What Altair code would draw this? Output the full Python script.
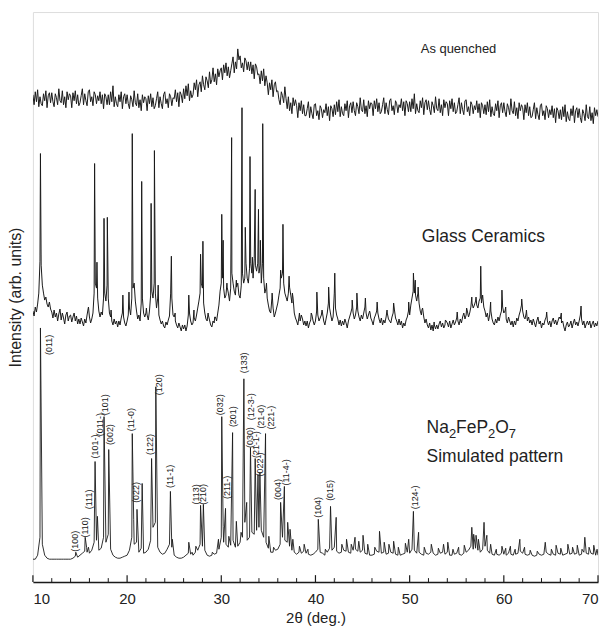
import altair as alt
import pandas as pd

# ---- x grids ----
GRID_FINE = [round(10 + 0.125 * i, 3) for i in range(481)]   # scanned traces
GRID_SIM = [round(10 + 0.25 * i, 2) for i in range(241)]     # simulated background

# ---- As quenched (intensity, arb. units), 0.125 deg steps, 8 per degree ----
AQ = [
    489, 479, 492, 482, 494, 477, 487, 480,  478, 490, 483, 493, 476, 488, 491, 481,
    491, 482, 477, 490, 486, 479, 495, 483,  481, 493, 479, 487, 476, 492, 484, 490,
    488, 476, 491, 483, 493, 480, 489, 478,  481, 488, 495, 479, 490, 483, 478, 492,
    494, 482, 487, 478, 492, 489, 480, 488,  483, 492, 480, 489, 475, 490, 487, 479,
    489, 479, 492, 482, 498, 477, 487, 480,  477, 489, 482, 492, 475, 487, 490, 480,
    489, 480, 475, 488, 484, 477, 493, 481,  478, 490, 476, 484, 473, 489, 481, 487,
    485, 473, 488, 480, 490, 477, 486, 475,  478, 485, 492, 476, 487, 480, 475, 489,
    492, 480, 485, 476, 490, 487, 478, 486,  485, 494, 482, 491, 477, 492, 489, 481,
    495, 485, 498, 488, 500, 483, 493, 486,  489, 501, 494, 504, 487, 499, 502, 492,
    508, 499, 494, 507, 503, 496, 512, 500,  504, 516, 502, 510, 499, 515, 507, 513,
    516, 504, 519, 511, 521, 508, 517, 506,  513, 520, 527, 511, 522, 515, 535, 524,
    528, 516, 521, 512, 526, 523, 514, 522,  513, 522, 510, 519, 505, 520, 517, 509,
    510, 500, 513, 503, 515, 498, 508, 501,  489, 501, 494, 504, 487, 499, 502, 492,
    493, 484, 479, 492, 488, 481, 497, 485,  475, 487, 473, 481, 470, 486, 478, 484,
    478, 466, 481, 473, 483, 470, 479, 468,  468, 475, 482, 466, 477, 470, 465, 479,
    480, 468, 473, 464, 478, 475, 466, 474,  471, 480, 468, 477, 463, 478, 475, 467,
    479, 469, 482, 472, 484, 467, 477, 470,  468, 480, 473, 483, 466, 478, 481, 471,
    482, 473, 468, 481, 477, 470, 486, 474,  472, 484, 470, 478, 467, 483, 475, 481,
    480, 468, 483, 475, 485, 472, 481, 470,  472, 479, 486, 470, 481, 474, 469, 483,
    485, 473, 478, 469, 483, 480, 471, 479,  476, 485, 473, 482, 468, 483, 480, 472,
    482, 472, 485, 475, 490, 470, 480, 473,  471, 483, 476, 486, 469, 481, 484, 474,
    483, 474, 469, 482, 478, 471, 487, 475,  473, 485, 471, 479, 468, 484, 476, 482,
    480, 468, 483, 475, 485, 472, 481, 470,  472, 479, 486, 470, 481, 474, 469, 483,
    484, 472, 477, 468, 482, 479, 470, 478,  474, 483, 471, 480, 466, 481, 478, 470,
    479, 469, 482, 472, 484, 467, 477, 470,  468, 480, 473, 483, 466, 478, 481, 471,
    481, 472, 467, 480, 476, 469, 485, 473,  470, 482, 468, 476, 465, 481, 473, 479,
    476, 464, 479, 471, 481, 468, 477, 466,  467, 474, 481, 465, 476, 469, 464, 478,
    480, 468, 473, 464, 478, 475, 466, 474,  469, 478, 466, 475, 461, 476, 473, 465,
    474, 464, 477, 467, 479, 462, 472, 465,  463, 475, 468, 478, 461, 473, 476, 466,
    475, 466, 461, 474, 470, 463, 479, 467,  465, 477, 463, 471, 460, 476, 468, 474,
    467,
]

# ---- Glass Ceramics background, 0.125 deg steps, 8 per degree ----
GC_BG = [
    272, 267, 276, 271, 279, 290, 322, 318,  298, 290, 283, 286, 279, 276, 281, 274,
    271, 265, 273, 266, 270, 262, 269, 274,  263, 270, 265, 259, 268, 271, 262, 267,
    268, 261, 266, 270, 262, 267, 259, 264,  259, 265, 261, 257, 264, 260, 268, 275,
    266, 260, 264, 270, 290, 300, 295, 285,  272, 266, 271, 268, 285, 290, 282, 298,
    285, 270, 266, 262, 258, 264, 259, 262,  256, 262, 258, 265, 270, 266, 260, 257,
    262, 268, 275, 268, 285, 295, 300, 282,  272, 264, 268, 262, 280, 285, 270, 266,
    270, 268, 263, 272, 288, 292, 285, 300,  290, 275, 285, 268, 263, 259, 262, 257,
    255, 261, 258, 263, 267, 290, 285, 268,  266, 262, 258, 255, 260, 256, 252, 258,
    254, 258, 252, 257, 268, 270, 262, 258,  260, 265, 262, 268, 275, 282, 290, 300,
    295, 280, 270, 264, 262, 268, 263, 258,  256, 262, 260, 266, 262, 270, 278, 292,
    300, 305, 295, 285, 288, 296, 290, 282,  295, 310, 300, 292, 288, 296, 300, 288,
    285, 298, 310, 300, 305, 320, 305, 300,  315, 320, 310, 305, 325, 318, 312, 320,
    310, 318, 300, 320, 305, 290, 295, 285,  278, 272, 270, 285, 275, 266, 270, 275,
    280, 288, 295, 305, 310, 300, 290, 286,  282, 290, 296, 288, 280, 285, 270, 265,
    262, 258, 266, 262, 268, 264, 258, 262,  257, 262, 255, 260, 263, 268, 262, 258,
    262, 272, 268, 262, 265, 268, 270, 262,  258, 264, 270, 280, 275, 268, 262, 266,
    290, 275, 268, 264, 258, 263, 257, 262,  258, 264, 260, 255, 262, 266, 270, 275,
    270, 264, 268, 276, 272, 266, 262, 268,  264, 270, 276, 270, 264, 268, 272, 265,
    262, 258, 265, 268, 272, 270, 264, 260,  265, 258, 263, 260, 266, 270, 264, 262,
    260, 266, 270, 274, 265, 262, 258, 264,  258, 262, 255, 260, 257, 263, 266, 272,
    268, 278, 285, 292, 290, 288, 282, 290,  280, 272, 268, 275, 266, 260, 264, 258,
    255, 260, 253, 258, 252, 258, 254, 258,  254, 259, 262, 256, 260, 255, 258, 262,
    260, 256, 262, 255, 259, 263, 258, 261,  265, 262, 258, 264, 260, 266, 270, 264,
    268, 272, 266, 270, 276, 280, 275, 278,  282, 278, 275, 282, 285, 280, 288, 276,
    272, 266, 270, 262, 268, 272, 264, 260,  258, 264, 260, 266, 262, 268, 272, 276,
    270, 272, 264, 260, 266, 262, 258, 262,  256, 262, 258, 265, 262, 268, 272, 278,
    272, 266, 264, 270, 262, 266, 260, 263,  258, 264, 260, 256, 262, 266, 259, 262,
    255, 260, 258, 263, 266, 262, 258, 262,  256, 262, 265, 259, 263, 258, 262, 266,
    264, 260, 262, 256, 252, 258, 261, 256,  258, 262, 255, 260, 264, 258, 261, 257,
    262, 268, 264, 258, 262, 255, 259, 262,  258, 262, 255, 259, 262, 256, 260, 257,
    262,
]
GC_PEAK_X = [10.8, 15.9, 16.55, 16.8, 17.55, 17.9, 18.3, 19.55, 20.2, 20.55, 21.55, 22.05,
             22.55, 22.9, 23.3, 24.7, 25.1, 26.55, 27.1, 27.8, 28.05, 28.6, 29.3, 30.05,
             30.2, 30.6, 31.1, 31.6, 32.2, 32.55, 33.05, 33.3, 33.6, 33.95, 34.15, 34.4,
             34.8, 35.4, 36.3, 36.55, 37.2, 37.55, 38.3, 39.55, 40.15, 40.7, 41.4, 42.05,
             43.9, 44.4, 45.3, 45.8, 46.55, 47.6, 48.3, 49.9, 50.4, 50.6, 50.9, 51.3,
             52.6, 53.8, 55.05, 56.05, 56.6, 57.05, 57.55, 57.8, 58.6, 59.8, 60.2, 61.9,
             62.4, 64.55, 66.1, 68.2]
GC_PEAK_Y = [430, 276, 420, 321, 365, 366, 273, 288, 291, 450, 402, 275,
             380, 433, 298, 327, 270, 288, 273, 329, 342, 270, 266, 369,
             343, 300, 446, 303, 476, 356, 427, 326, 394, 374, 343, 460,
             300, 290, 313, 359, 307, 290, 270, 270, 291, 273, 296, 310,
             283, 290, 285, 270, 281, 273, 280, 281, 310, 303, 296, 273,
             261, 263, 271, 275, 286, 286, 317, 283, 281, 293, 276, 284,
             273, 271, 270, 277]

# ---- Simulated pattern: smooth background + peaks ----
SIM_BG = [
    23, 23, 27, 45,  38, 27, 24, 23,  23, 23, 23, 23,  23, 23, 23, 23,
    23, 24, 26, 25,  27, 29, 31, 30,  29, 32, 40, 42,  32, 34, 45, 40,
    48, 33, 27, 25,  24, 24, 25, 26,  27, 32, 45, 38,  40, 30, 34, 29,
    30, 33, 42, 55,  60, 35, 30, 28,  29, 33, 38, 35,  27, 25, 24, 24,
    25, 27, 29, 28,  27, 30, 32, 38,  36, 32, 27, 26,  27, 28, 29, 33,
    45, 40, 38, 35,  37, 42, 35, 36,  40, 45, 60, 42,  45, 50, 48, 52,
    55, 52, 45, 40,  34, 30, 30, 32,  33, 38, 45, 42,  40, 36, 32, 30,
    28, 30, 29, 31,  29, 28, 27, 28,  30, 33, 30, 29,  27, 30, 34, 32,
    35, 31, 29, 30,  32, 31, 30, 29,  32, 33, 31, 30,  32, 29, 28, 27,
    27, 28, 31, 30,  29, 30, 28, 29,  30, 29, 28, 27,  27, 28, 29, 30,
    29, 33, 32, 29,  30, 28, 27, 29,  28, 30, 29, 27,  28, 29, 30, 28,
    30, 27, 27, 28,  29, 28, 27, 29,  30, 32, 36, 33,  34, 32, 30, 33,
    36, 32, 29, 28,  27, 28, 27, 29,  28, 27, 29, 28,  27, 28, 29, 31,
    29, 28, 27, 28,  27, 26, 27, 28,  27, 28, 30, 28,  27, 28, 27, 29,
    28, 27, 28, 29,  28, 29, 28, 29,  27, 28, 30, 29,  28, 29, 28, 27,
    27,
]
SIM_PEAK_X = [10.8, 14.55, 15.55, 15.7, 15.9, 16.6, 16.85, 17.55, 18.05, 20.55, 20.7, 21.05,
              21.6, 22.6, 23.05, 24.6, 24.8, 26.55, 26.9, 27.3, 27.8, 28.1, 29.05, 29.7,
              30.05, 30.2, 30.45, 30.8, 31.2, 31.6, 32.1, 32.4, 32.7, 33.1, 33.6, 33.9,
              34.1, 34.7, 35.05, 35.55, 36.3, 36.7, 37.05, 37.3, 37.6, 38.3, 38.8, 39.2,
              40.3, 41.05, 41.6, 42.2, 42.8, 43.3, 43.8, 44.2, 44.6, 45.05, 45.55, 46.3,
              46.8, 47.3, 47.8, 48.3, 48.8, 49.55, 49.9, 50.4, 50.95, 51.55, 52.3, 53.05,
              53.6, 54.05, 54.6, 55.2, 55.8, 56.6, 56.8, 57.05, 57.3, 57.9, 58.2, 58.6,
              59.2, 59.8, 60.2, 60.7, 61.2, 61.7, 62.2, 62.8, 63.55, 64.4, 65.05, 65.55,
              66.05, 66.8, 67.3, 67.8, 68.3, 68.6, 69.05, 69.55, 69.9]
SIM_PEAK_Y = [255, 30, 45, 35, 35, 121, 66, 166, 133, 149, 63, 73,
              99, 124, 196, 91, 43, 40, 30, 36, 77, 78, 30, 43,
              166, 56, 74, 46, 150, 61, 50, 204, 80, 135, 124, 108,
              110, 149, 46, 35, 80, 96, 60, 53, 43, 36, 38, 33,
              63, 33, 76, 65, 38, 43, 38, 45, 41, 47, 38, 35,
              51, 40, 38, 41, 35, 39, 43, 71, 50, 35, 38, 34,
              38, 40, 33, 35, 37, 55, 48, 47, 43, 60, 47, 38,
              33, 36, 34, 36, 33, 43, 35, 32, 31, 40, 33, 37,
              34, 38, 35, 37, 33, 45, 35, 37, 33]

# ---- Miller-index labels of the simulated pattern ----
HKL_TEXT = ["(011)", "(100)", "(110)", "(111)", "(101-)", "(011-)", "(101)", "(002)",
            "(11-0)", "(022)", "(122)", "(120)", "(11-1)", "(113)", "(210)", "(032)",
            "(211-)", "(201)", "(133)", "(030)", "(12-3-)", "(21-1-)", "(022-)", "(21-0)",
            "(221-)", "(004)", "(11-4-)", "(104)", "(015)", "(124-)"]
HKL_X = [11.72, 14.52, 15.5, 15.93, 16.63, 17.16, 17.62, 18.15,
         20.44, 20.97, 22.46, 23.44, 24.57, 27.35, 28.1, 29.86,
         30.63, 31.27, 32.43, 33.04, 33.14, 33.7, 34.1, 34.2,
         35.26, 36.03, 36.85, 40.26, 41.53, 50.6]
HKL_Y = [238, 41, 55, 83, 136, 158, 178, 148,
         163, 90, 138, 198, 106, 88, 88, 178,
         95, 166, 220, 145, 176, 138, 118, 166,
         165, 93, 110, 75, 92, 85]

# ---- trace captions ----
CAP_TEXT = ["As quenched", "Glass Ceramics", "Simulated pattern"]
CAP_X = [55.19, 57.83, 51.8]
CAP_Y = [535, 346, 121]

# chemical formula, split into normal and subscript parts
FORMULA_PARTS = ["Na", "2", "FeP", "2", "O", "7"]
FORMULA_SUB = [False, True, False, True, False, True]
FORMULA_X = 51.8
FORMULA_Y = 150

MAJOR = [10, 20, 30, 40, 50, 60, 70]
MINOR = [12, 14, 16, 18, 22, 24, 26, 28, 32, 34, 36, 38, 42, 44, 46, 48,
         52, 54, 56, 58, 62, 64, 66, 68]

W, H = 567, 572
FONT = "Liberation Sans"
INK = "#1a1a1a"

aq_df = pd.DataFrame({"x": GRID_FINE, "y": AQ})
gc_df = pd.concat([pd.DataFrame({"x": GRID_FINE, "y": GC_BG}),
                   pd.DataFrame({"x": GC_PEAK_X, "y": GC_PEAK_Y})]).sort_values("x")
sim_df = pd.concat([pd.DataFrame({"x": GRID_SIM, "y": SIM_BG}),
                    pd.DataFrame({"x": SIM_PEAK_X, "y": SIM_PEAK_Y})]).sort_values("x")
hkl_df = pd.DataFrame({"t": HKL_TEXT, "x": HKL_X, "y": HKL_Y})
cap_df = pd.DataFrame({"t": CAP_TEXT, "x": CAP_X, "y": CAP_Y})

xs = alt.Scale(domain=[10, 70], nice=False, zero=False)
ys = alt.Scale(domain=[0, 572], nice=False, zero=False)

xax = alt.Axis(values=MAJOR, ticks=False, grid=False, domain=True, domainColor=INK,
               domainWidth=1.5, labelFont=FONT, labelFontSize=15, labelColor="#222",
               labelPadding=9, title="2\u03b8 (deg.)", titleFont=FONT, titleFontSize=15,
               titleFontWeight="normal", titleColor="#222", titleBaseline="alphabetic",
               titleY=41)
yax = alt.Axis(labels=False, ticks=False, grid=False, domain=False,
               title="Intensity (arb. units)", titleFont=FONT, titleFontSize=16,
               titleFontWeight="normal", titleColor="#222", titleBaseline="alphabetic",
               titleX=-12, titleY=H / 2)


def trace(df, sw):
    return alt.Chart(df).mark_line(color=INK, strokeWidth=sw, clip=True).encode(
        x=alt.X("x:Q", scale=xs, axis=xax),
        y=alt.Y("y:Q", scale=ys, axis=yax),
        order="x:Q",
    )


aq_l = trace(aq_df, 1.0)
gc_l = trace(gc_df, 1.0)
sim_l = trace(sim_df, 0.9)

ticks_major = alt.Chart(pd.DataFrame({"x": MAJOR})).mark_rule(color=INK, strokeWidth=1.2).encode(
    x=alt.X("x:Q", scale=xs), y=alt.value(H), y2=alt.value(H - 7))
ticks_minor = alt.Chart(pd.DataFrame({"x": MINOR})).mark_rule(color=INK, strokeWidth=1.0).encode(
    x=alt.X("x:Q", scale=xs), y=alt.value(H), y2=alt.value(H - 4))

hkl = alt.Chart(hkl_df).mark_text(angle=270, font=FONT, fontSize=9, color="#222",
                                  align="center", baseline="middle").encode(
    x=alt.X("x:Q", scale=xs), y=alt.Y("y:Q", scale=ys), text="t:N")

cap_aq = alt.Chart(cap_df.iloc[[0]]).mark_text(font=FONT, fontSize=13, color="#222",
                                               align="center", baseline="middle").encode(
    x=alt.X("x:Q", scale=xs), y=alt.Y("y:Q", scale=ys), text="t:N")
cap_gc = alt.Chart(cap_df.iloc[[1]]).mark_text(font=FONT, fontSize=17.5, color="#222",
                                               align="center", baseline="middle").encode(
    x=alt.X("x:Q", scale=xs), y=alt.Y("y:Q", scale=ys), text="t:N")
cap_sim = alt.Chart(cap_df.iloc[[2]]).mark_text(font=FONT, fontSize=17.5, color="#222",
                                                align="left", baseline="alphabetic").encode(
    x=alt.X("x:Q", scale=xs), y=alt.Y("y:Q", scale=ys), text="t:N")

# formula: normal-size pieces and lowered subscripts, placed one after another
BIG, SMALL = 17.5, 13
widths_em = {"Na": 1.278, "FeP": 1.834, "O": 0.778, "2": 0.556, "7": 0.556}
formula_layers = []
offset = 0.0
for part, sub in zip(FORMULA_PARTS, FORMULA_SUB):
    fs = SMALL if sub else BIG
    formula_layers.append(
        alt.Chart(pd.DataFrame({"t": [part], "x": [FORMULA_X], "y": [FORMULA_Y]}))
        .mark_text(font=FONT, fontSize=fs, color="#222", align="left", baseline="alphabetic",
                   dx=offset, dy=5 if sub else 0)
        .encode(x=alt.X("x:Q", scale=xs), y=alt.Y("y:Q", scale=ys), text="t:N")
    )
    offset += widths_em[part] * fs

chart = alt.layer(sim_l, gc_l, aq_l, ticks_major, ticks_minor, hkl, cap_aq, cap_gc, cap_sim,
                  *formula_layers).properties(
    width=W, height=H,
    autosize=alt.AutoSizeParams(type="none"),
    padding={"left": 25, "top": 3, "right": 2, "bottom": 47},
).configure_view(stroke=INK, strokeWidth=1.2).configure(background="white")

chart.save("out.html", embed_options={"renderer": "svg", "actions": False})
